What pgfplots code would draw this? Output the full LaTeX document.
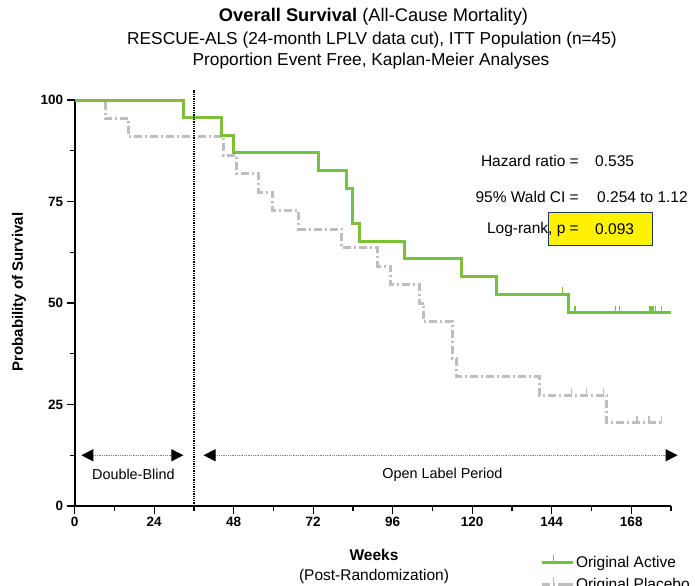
\documentclass[border=0pt]{standalone}
\usepackage{fontspec}
\setmainfont{Liberation Sans}
\usepackage{pgfplots}
\pgfplotsset{compat=1.18}
\usetikzlibrary{arrows.meta}
\definecolor{actgreen}{RGB}{122,192,58}
\definecolor{plgrey}{RGB}{190,190,190}
\definecolor{navyb}{RGB}{31,56,100}
\pgfdeclareplotmark{cens}{\pgfpathmoveto{\pgfpoint{0pt}{0pt}}\pgfpathlineto{\pgfpoint{0pt}{7bp}}\pgfusepathqstroke}
\begin{document}
\begin{tikzpicture}
\begin{axis}[
  at={(74.7bp,-506bp)}, anchor=south west,
  scale only axis, width=596.3bp, height=406bp,
  xmin=0, xmax=180, ymin=0, ymax=100,
  axis lines=left, axis line style={-, line width=1.6bp, black},
  xtick={0,24,...,168}, minor xtick={12,36,...,180},
  ytick={0,25,50,75,100}, minor ytick={12.5,37.5,62.5,87.5},
  tick align=outside, major tick length=8bp, minor tick length=5bp,
  every tick/.style={black, line width=1.4bp},
  ticklabel style={font=\fontsize{13.5bp}{16bp}\selectfont\bfseries},
  /pgf/number format/assume math mode=true,
  clip=false,
  reverse legend,
  legend style={at={(axis description cs:0.775,-0.113)}, anchor=north west, draw=none, fill=none,
    font=\fontsize{15.5bp}{18bp}\selectfont, row sep=5bp, cells={anchor=west}},
]
% Placebo
\addplot[plgrey, line width=3bp, const plot, dash pattern=on 8bp off 3bp on 2bp off 3bp,
  legend image code/.code={\draw[plgrey,line width=3bp] (0bp,0bp)--(24bp,0bp); \draw[plgrey,line width=1.5bp] (12bp,0bp)--(12bp,8bp); \path (24bp,0bp)--(31bp,0bp);}]
coordinates {(0,100)(9.2,95.45)(16.2,90.9)(44.9,86.4)(48.9,81.8)(55.6,77.3)(59.8,72.7)(67.7,68.2)(80.6,63.6)(91.4,59.1)(95.4,54.5)(104,50)(105.4,45.45)(114,36.4)(115.4,31.8)(140.2,27.3)(160.6,20.5)(177.3,20.5)};
\addlegendentry{Original Placebo}
\addplot[plgrey, line width=1.5bp, only marks, mark=cens, forget plot]
coordinates {(150,27.3)(154.5,27.3)(159.6,27.3)(169.8,20.5)(173.4,20.5)(177.2,20.5)};
% Active
\addplot[actgreen, line width=3bp, const plot,
  legend image code/.code={\draw[actgreen,line width=3bp] (0bp,0bp)--(24bp,0bp); \draw[actgreen,line width=1.5bp] (12bp,0bp)--(12bp,8bp); \path (24bp,0bp)--(31bp,0bp);}]
coordinates {(0,100)(32.8,95.65)(44.3,91.3)(47.9,86.96)(73.6,82.6)(82.0,78.3)(83.8,69.6)(86.1,65.2)(99.7,60.9)(116.8,56.5)(127.4,52.2)(149,47.6)(179.9,47.6)};
\addlegendentry{Original Active}
\addplot[actgreen, line width=1.5bp, only marks, mark=cens, forget plot]
coordinates {(147.3,52.2)(151,47.6)(163.3,47.6)(164.4,47.6)(173.7,47.6)(174.2,47.6)(174.7,47.6)(175.3,47.6)(177.2,47.6)};
% period separator and arrows
\draw[black, densely dotted, line width=1.3bp] (axis cs:36,0) -- (axis cs:36,102.5);
\draw[gray, densely dotted, line width=0.8bp, {Triangle[length=12bp,width=12bp,color=black]}-{Triangle[length=12bp,width=12bp,color=black]}]
  (axis cs:2,12.5) -- (axis cs:32.8,12.5);
\draw[gray, densely dotted, line width=0.8bp, {Triangle[length=12bp,width=12bp,color=black]}-{Triangle[length=12bp,width=12bp,color=black]}]
  (axis cs:38.9,12.5) -- (axis cs:182,12.5);
\node[font=\fontsize{14.4bp}{17bp}\selectfont] at (axis cs:17.7,7.8) {Double-Blind};
\node[font=\fontsize{14.4bp}{17bp}\selectfont] at (axis cs:111,7.8) {Open Label Period};
\end{axis}
% titles
\node[font=\fontsize{18.3bp}{21bp}\selectfont] at (373.5bp,-17bp) {\textbf{Overall Survival} (All-Cause Mortality)};
\node[font=\fontsize{17.3bp}{20bp}\selectfont] at (372bp,-40bp) {RESCUE-ALS (24-month LPLV data cut), ITT Population (n=45)};
\node[font=\fontsize{17.3bp}{20bp}\selectfont] at (371bp,-61bp) {Proportion Event Free, Kaplan-Meier Analyses};
% axis labels
\node[rotate=90, font=\fontsize{15bp}{18bp}\selectfont\bfseries] at (19bp,-292bp) {Probability of Survival};
\node[font=\fontsize{15.5bp}{18bp}\selectfont\bfseries] at (374bp,-555bp) {Weeks};
\node[font=\fontsize{15.5bp}{18bp}\selectfont] at (374bp,-576bp) {(Post-Randomization)};
% statistics
\begin{scope}[every node/.style={inner sep=0pt, font=\fontsize{15.5bp}{18bp}\selectfont}]
\draw[navyb, fill=yellow, line width=1.2bp] (548.3bp,-212.7bp) rectangle (652.7bp,-245.7bp);
\node[anchor=east] at (579bp,-161bp) {Hazard ratio =};
\node[anchor=west] at (595bp,-161bp) {0.535};
\node[anchor=east] at (579bp,-197bp) {95\% Wald CI =};
\node[anchor=west] at (597bp,-197bp) {0.254 to 1.12};
\node[anchor=east] at (579bp,-229bp) {Log-rank, p =};
\node[anchor=west] at (595bp,-229bp) {0.093};
\end{scope}
\pgfresetboundingbox
\path[use as bounding box] (0bp,0bp) rectangle (695bp,-586bp);
\end{tikzpicture}
\end{document}
